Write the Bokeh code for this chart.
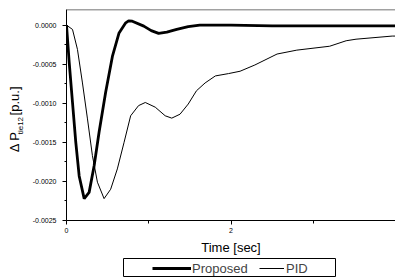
import math
from bokeh.plotting import figure
from bokeh.layouts import column, row
from bokeh.models import (Span, Legend, LegendItem, FixedTicker,
                          NumeralTickFormatter, Range1d, Spacer)
from bokeh.core.properties import value
from bokeh.embed import file_html
from bokeh.resources import INLINE

# ---- data ----
t_proposed = [0.0, 0.033, 0.073, 0.113, 0.154, 0.215, 0.275, 0.336, 0.396,
              0.476, 0.558, 0.639, 0.72, 0.755, 0.80, 0.94, 1.03, 1.12, 1.22,
              1.34, 1.48, 1.62, 2.0, 2.5, 3.0, 3.5, 4.0]
p_proposed = [0.0, -0.00048, -0.00099, -0.00150, -0.00193, -0.00222, -0.00214,
              -0.00180, -0.00137, -0.00086, -0.00040, -0.00010, 0.00003,
              0.000055, 0.00005, -0.000013, -0.00007, -0.000106, -0.00009,
              -0.000055, -0.00002, 0.0, 0.0, -0.00001, -0.00001, -0.00001,
              -0.00001]

t_pid = [0.0, 0.073, 0.133, 0.194, 0.255, 0.315, 0.376, 0.457, 0.537, 0.618,
         0.70, 0.78, 0.876, 0.958, 1.079, 1.2, 1.28, 1.38, 1.48, 1.58, 1.685,
         1.81, 1.97, 2.11, 2.29, 2.56, 2.8, 3.2, 3.4, 3.52, 3.96, 4.0]
p_pid = [0.0, -0.000055, -0.00031, -0.00074, -0.00120, -0.00167, -0.00201,
         -0.00222, -0.00210, -0.00184, -0.00150, -0.00116, -0.00103,
         -0.00099, -0.00105, -0.00116, -0.00119, -0.00114, -0.00101,
         -0.00084, -0.00074, -0.00065, -0.00062, -0.00059, -0.00051,
         -0.00037, -0.00032, -0.00027, -0.00020, -0.00018, -0.00014,
         -0.00014]

x_major = [0, 2]
x_minor = [1, 3]
y_major = [0.0, -0.0005, -0.0010, -0.0015, -0.0020, -0.0025]
y_minor = [-0.00025, -0.00075, -0.00125, -0.00175, -0.00225]
series_names = ["Proposed", "PID"]
ylabel_parts = ["\u0394 P", "tie12", "[p.u.]"]

FONT = "Liberation Sans"
W_PROP = 2.8
W_PID = 1.0

# ---------------- main plot ----------------
p = figure(width=371, height=257, output_backend="svg", toolbar_location=None,
           x_range=Range1d(0, 4), y_range=Range1d(-0.0025, 0.0002),
           min_border_left=42, min_border_right=0, min_border_top=9,
           min_border_bottom=37)
p.background_fill_color = "white"
p.border_fill_color = "white"
p.outline_line_color = None
p.xgrid.visible = False
p.ygrid.visible = False

r1 = p.line(t_proposed, p_proposed, line_color="black", line_width=W_PROP)
r2 = p.line(t_pid, p_pid, line_color="black", line_width=W_PID)

p.add_layout(Span(location=0.0002, dimension="width", line_color="#444444",
                  line_width=1.5))

p.xaxis.ticker = FixedTicker(ticks=x_major, minor_ticks=x_minor)
p.xaxis.axis_label = "Time [sec]"
p.xaxis.axis_label_text_font = FONT
p.xaxis.axis_label_text_font_size = "13px"
p.xaxis.axis_label_text_font_style = "normal"
p.xaxis.axis_label_standoff = 4
p.xaxis.major_label_text_font = FONT
p.xaxis.major_label_text_font_size = "7px"
p.xaxis.major_label_standoff = 3
p.xaxis.major_tick_out = 4
p.xaxis.major_tick_in = 0
p.xaxis.minor_tick_out = 3
p.xaxis.minor_tick_in = 0

p.yaxis.ticker = FixedTicker(ticks=y_major, minor_ticks=y_minor)
p.yaxis.formatter = NumeralTickFormatter(format="0.0000")
p.yaxis.major_label_text_font = FONT
p.yaxis.major_label_text_font_size = "7px"
p.yaxis.major_label_standoff = 6
p.yaxis.major_tick_out = 4
p.yaxis.major_tick_in = 0
p.yaxis.minor_tick_out = 2
p.yaxis.minor_tick_in = 0
for ax in (p.xaxis, p.yaxis):
    ax.axis_line_color = "black"
    ax.major_tick_line_color = "black"
    ax.minor_tick_line_color = "black"
    ax.major_label_text_color = "black"
    ax.axis_label_text_color = "black"

# ---------------- y-axis label strip ----------------
yl = figure(width=24, height=257, output_backend="svg", toolbar_location=None,
            x_range=Range1d(0, 24), y_range=Range1d(0, 257),
            min_border=0)
yl.axis.visible = False
yl.grid.visible = False
yl.outline_line_color = None
yl.background_fill_color = "white"
yl.border_fill_color = "white"
ang = math.pi / 2
yl.text(x=[14], y=[83], text=[ylabel_parts[0]], angle=ang,
        text_align="left", text_baseline="middle",
        text_font=value(FONT), text_font_size="13px", text_color="black")
yl.text(x=[19.5], y=[105], text=[ylabel_parts[1]], angle=ang,
        text_align="left", text_baseline="middle",
        text_font=value(FONT), text_font_size="8px", text_color="black")
yl.text(x=[14], y=[128], text=[ylabel_parts[2]], angle=ang,
        text_align="left", text_baseline="middle",
        text_font=value(FONT), text_font_size="13px", text_color="black")

# ---------------- legend box strip ----------------
lg = figure(width=214, height=20, output_backend="svg", toolbar_location=None,
            x_range=Range1d(100, 101), y_range=Range1d(100, 101),
            min_border=1)
lg.axis.visible = False
lg.grid.visible = False
lg.outline_line_color = "black"
lg.outline_line_width = 1
lg.background_fill_color = "white"
lg.border_fill_color = "white"
# same series, drawn outside this strip's ranges, only for the legend keys
lr1 = lg.line(t_proposed, p_proposed, line_color="black", line_width=W_PROP)
lr2 = lg.line(t_pid, p_pid, line_color="black", line_width=W_PID)

common = dict(orientation="horizontal", glyph_height=16, label_height=16,
              padding=1, margin=0, label_text_font=FONT,
              label_text_font_size="13px", border_line_color=None,
              background_fill_alpha=0.0)
leg1 = Legend(items=[LegendItem(label=series_names[0], renderers=[lr1])],
              location=(29, 0), glyph_width=39, label_standoff=1, **common)
leg2 = Legend(items=[LegendItem(label=series_names[1], renderers=[lr2])],
              location=(136, 0), glyph_width=25, label_standoff=2, **common)
lg.add_layout(leg1, "center")
lg.add_layout(leg2, "center")

layout = column(row(yl, p), row(Spacer(width=122, height=20), lg))
open("out.html", "w").write(file_html(layout, INLINE))
